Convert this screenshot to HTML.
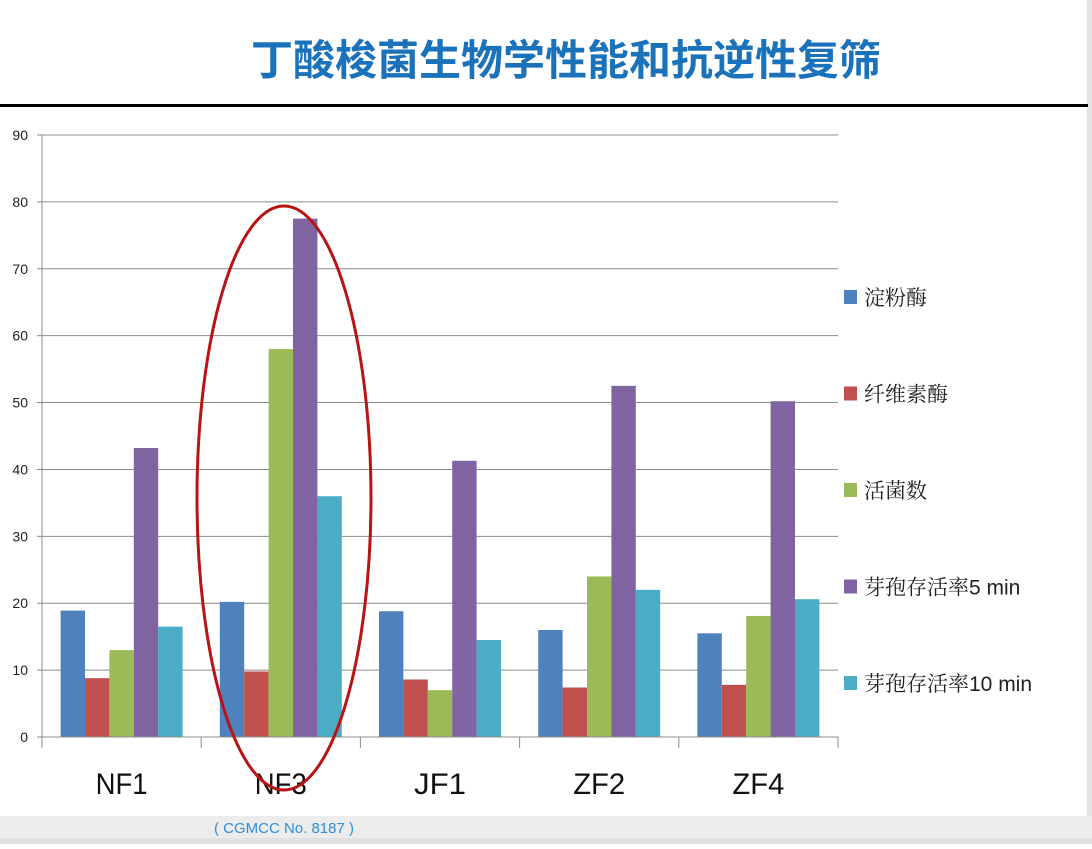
<!DOCTYPE html>
<html><head><meta charset="utf-8"><style>
body{margin:0;width:1092px;height:844px;overflow:hidden;background:#fff;font-family:"Liberation Sans","Noto Sans CJK SC",sans-serif;}
</style></head><body>
<svg width="1092" height="844" xmlns="http://www.w3.org/2000/svg">
<rect x="0" y="816" width="1092" height="28" fill="#ececec"/>
<rect x="0" y="838" width="1092" height="6" fill="#e2e2e2"/>
<rect x="1087" y="0" width="5" height="816" fill="#e4e4e4"/>
<text x="566" y="75" text-anchor="middle" font-size="42" font-weight="bold" fill="#1a72bb" font-family="'Noto Sans CJK SC',sans-serif">丁酸梭菌生物学性能和抗逆性复筛</text>
<rect x="0" y="104" width="1088" height="3" fill="#000"/>
<g id="grid"></g><g id="bars"></g><g id="axes"></g><g id="legend"></g>
<ellipse cx="284" cy="498" rx="87" ry="292" fill="none" stroke="#b81414" stroke-width="3"/>
<text x="284" y="833" text-anchor="middle" font-size="15" fill="#2f8fd8">( CGMCC No. 8187 )</text>
</svg>
<script>
const categories=["NF1","NF3","JF1","ZF2","ZF4"];
const seriesNames=["淀粉酶","纤维素酶","活菌数","芽孢存活率5 min","芽孢存活率10 min"];
const amylase=[18.9,20.2,18.8,16,15.5];
const cellulase=[8.8,9.8,8.6,7.4,7.8];
const viable=[13,58,7,24,18.1];
const spore5=[43.2,77.5,41.3,52.5,50.2];
const spore10=[16.5,36,14.5,22,20.6];
const yTicks=[0,10,20,30,40,50,60,70,80,90];
const colors=["#4f81bd","#c0504d","#9bbb59","#8064a2","#4bacc6"];
const series=[amylase,cellulase,viable,spore5,spore10];
const NS="http://www.w3.org/2000/svg";
const X0=42,X1=838,Y0=737,Y90=135;
const y=v=>Y0-(v/90)*(Y0-Y90);
const gw=(X1-X0)/categories.length, bw=24.4, pad=(gw-bw*5)/2;
function mk(t,a,p){const e=document.createElementNS(NS,t);for(const k in a)e.setAttribute(k,a[k]);p.appendChild(e);return e;}
const grid=document.getElementById('grid'),bars=document.getElementById('bars'),axes=document.getElementById('axes'),legend=document.getElementById('legend');
yTicks.forEach(t=>{
 if(t>0){const l=mk('line',{x1:X0,x2:X1,y1:y(t),y2:y(t),stroke:'#8c8c8c','stroke-width':1},grid);
 
 }
 const tk=mk('line',{x1:X0-5,x2:X0,y1:y(t),y2:y(t),stroke:'#8c8c8c'},axes);
 
 
 const tx=mk('text',{x:X0-14,y:y(t)+5,'text-anchor':'end','font-size':14,fill:'#222'},axes);
 tx.textContent=t;
 
 
});
const ya=mk('line',{x1:X0,x2:X0,y1:Y90,y2:Y0,stroke:'#8c8c8c'},axes);


const xa=mk('line',{x1:X0,x2:X1,y1:Y0,y2:Y0,stroke:'#8c8c8c'},axes);


for(let i=0;i<=categories.length;i++){
 const t=mk('line',{x1:X0+i*gw,x2:X0+i*gw,y1:Y0,y2:Y0+11,stroke:'#8c8c8c'},axes);
 
 
}
categories.forEach((c,i)=>{
 const tx=mk('text',{x:X0+gw*(i+0.5),y:794,'text-anchor':'middle','font-size':30,fill:'#111',textLength:52,lengthAdjust:'spacingAndGlyphs'},axes);
 tx.textContent=c;
 
 
 series.forEach((s,j)=>{
  const r=mk('rect',{x:X0+gw*i+pad+j*bw,y:y(s[i]),width:bw,height:Y0-y(s[i]),fill:colors[j]},bars);
  
  
 });
});
seriesNames.forEach((n,j)=>{
 const cy=297+j*96.5;
 const r=mk('rect',{x:844,y:cy-7,width:13,height:14,fill:colors[j]},legend);
 
 
 const t=mk('text',{x:864,y:cy+8,'font-size':21,fill:'#222','font-family':"'Liberation Sans','Noto Serif CJK SC',serif"},legend);
 t.textContent=n;
 
 
});
</script>
</body></html>
